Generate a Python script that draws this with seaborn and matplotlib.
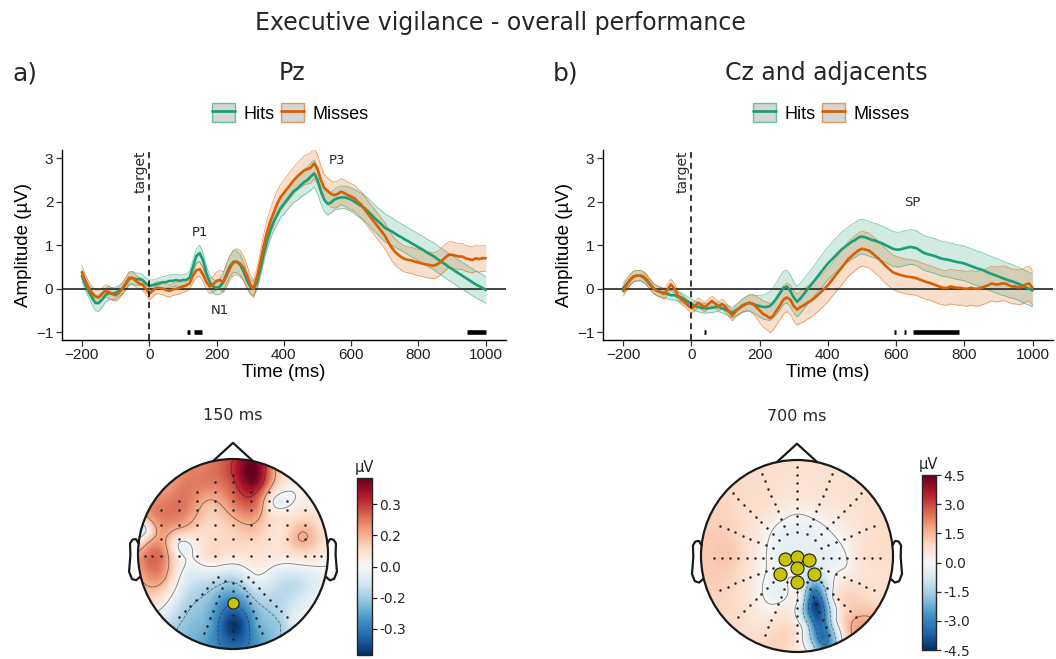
import numpy as np
import pandas as pd
import matplotlib
matplotlib.use("Agg")
import matplotlib.pyplot as plt
import seaborn as sns
from matplotlib.patches import Circle, Patch
from matplotlib.lines import Line2D
from matplotlib.legend_handler import HandlerTuple
from matplotlib.colors import to_rgb
from matplotlib.ticker import FuncFormatter

# ---------------------------------------------------------------- ERP data
times = np.arange(-200, 1001, 10)

pz_hits = [
    0.30, 0.10, -0.05, -0.20, -0.33, -0.33, -0.25, -0.15, -0.10, -0.12,
    -0.10, -0.05, 0.00, 0.10, 0.22, 0.25, 0.22, 0.22, 0.20, 0.12,
    0.07, 0.08, 0.10, 0.12, 0.15, 0.15, 0.18, 0.18, 0.20, 0.18,
    0.20, 0.20, 0.25, 0.50, 0.75, 0.82, 0.65, 0.35, 0.15, 0.05,
    0.02, 0.05, 0.15, 0.35, 0.52, 0.62, 0.62, 0.55, 0.40, 0.20,
    0.05, 0.00, 0.15, 0.45, 0.80, 1.10, 1.35, 1.55, 1.70, 1.85,
    1.95, 2.05, 2.15, 2.25, 2.30, 2.38, 2.45, 2.50, 2.58, 2.65,
    2.50, 2.25, 2.05, 1.95, 1.98, 2.05, 2.08, 2.10, 2.10, 2.08,
    2.05, 2.00, 1.95, 1.90, 1.85, 1.78, 1.70, 1.62, 1.55, 1.48,
    1.40, 1.36, 1.32, 1.27, 1.22, 1.18, 1.13, 1.09, 1.04, 1.00,
    0.95, 0.91, 0.86, 0.81, 0.77, 0.72, 0.66, 0.61, 0.56, 0.50,
    0.45, 0.40, 0.35, 0.30, 0.25, 0.20, 0.15, 0.10, 0.06, 0.02,
    -0.03]
pz_hits_ci = [
    0.14, 0.14, 0.15, 0.16, 0.18, 0.19, 0.18, 0.16, 0.15, 0.14,
    0.14, 0.13, 0.13, 0.14, 0.15, 0.15, 0.14, 0.14, 0.13, 0.13,
    0.13, 0.12, 0.12, 0.13, 0.13, 0.14, 0.14, 0.14, 0.13, 0.13,
    0.13, 0.14, 0.15, 0.16, 0.17, 0.18, 0.17, 0.16, 0.16, 0.16,
    0.16, 0.18, 0.20, 0.22, 0.24, 0.25, 0.25, 0.24, 0.22, 0.19,
    0.17, 0.16, 0.17, 0.18, 0.19, 0.20, 0.21, 0.22, 0.22, 0.22,
    0.23, 0.24, 0.25, 0.26, 0.27, 0.28, 0.29, 0.30, 0.31, 0.31,
    0.31, 0.30, 0.28, 0.26, 0.24, 0.24, 0.25, 0.26, 0.26, 0.27,
    0.27, 0.28, 0.29, 0.29, 0.30, 0.30, 0.31, 0.31, 0.31, 0.32,
    0.32, 0.32, 0.32, 0.31, 0.31, 0.31, 0.31, 0.31, 0.31, 0.31,
    0.31, 0.31, 0.31, 0.31, 0.31, 0.31, 0.31, 0.31, 0.31, 0.31,
    0.31, 0.31, 0.31, 0.31, 0.31, 0.31, 0.31, 0.31, 0.31, 0.31,
    0.31]
pz_misses = [
    0.38, 0.18, 0.02, -0.10, -0.18, -0.20, -0.12, -0.05, -0.08, -0.12,
    -0.15, -0.10, 0.00, 0.12, 0.25, 0.25, 0.18, 0.12, 0.10, 0.00,
    -0.12, -0.05, 0.02, 0.02, 0.00, -0.03, -0.05, -0.02, 0.00, 0.02,
    0.05, 0.08, 0.12, 0.30, 0.42, 0.45, 0.32, 0.15, 0.05, 0.10,
    0.18, 0.20, 0.15, 0.30, 0.48, 0.60, 0.62, 0.58, 0.48, 0.30,
    0.10, 0.00, 0.25, 0.60, 0.98, 1.30, 1.55, 1.75, 1.95, 2.10,
    2.20, 2.30, 2.40, 2.50, 2.58, 2.65, 2.72, 2.75, 2.78, 2.88,
    2.75, 2.50, 2.32, 2.25, 2.18, 2.15, 2.18, 2.23, 2.20, 2.15,
    2.12, 2.08, 2.00, 1.93, 1.82, 1.72, 1.62, 1.52, 1.42, 1.32,
    1.22, 1.08, 0.95, 0.85, 0.78, 0.72, 0.68, 0.66, 0.65, 0.62,
    0.60, 0.58, 0.56, 0.55, 0.53, 0.54, 0.58, 0.65, 0.72, 0.78,
    0.78, 0.76, 0.74, 0.74, 0.70, 0.68, 0.66, 0.70, 0.68, 0.70,
    0.70]
pz_misses_ci = [
    0.15, 0.15, 0.15, 0.15, 0.15, 0.15, 0.14, 0.14, 0.14, 0.14,
    0.14, 0.14, 0.13, 0.13, 0.14, 0.14, 0.14, 0.14, 0.13, 0.13,
    0.14, 0.14, 0.14, 0.14, 0.14, 0.14, 0.14, 0.14, 0.14, 0.14,
    0.14, 0.14, 0.14, 0.15, 0.16, 0.16, 0.16, 0.16, 0.17, 0.18,
    0.20, 0.22, 0.24, 0.26, 0.28, 0.29, 0.30, 0.30, 0.28, 0.25,
    0.22, 0.20, 0.22, 0.24, 0.26, 0.28, 0.29, 0.30, 0.30, 0.30,
    0.30, 0.30, 0.30, 0.30, 0.31, 0.32, 0.33, 0.34, 0.35, 0.35,
    0.34, 0.33, 0.31, 0.30, 0.30, 0.30, 0.30, 0.30, 0.30, 0.30,
    0.30, 0.30, 0.30, 0.30, 0.30, 0.30, 0.30, 0.30, 0.30, 0.30,
    0.30, 0.30, 0.30, 0.30, 0.30, 0.30, 0.30, 0.30, 0.30, 0.30,
    0.30, 0.30, 0.30, 0.30, 0.30, 0.30, 0.30, 0.30, 0.30, 0.30,
    0.30, 0.30, 0.30, 0.30, 0.30, 0.30, 0.30, 0.30, 0.30, 0.30,
    0.30]

cz_hits = [
    0.02, 0.10, 0.20, 0.28, 0.30, 0.30, 0.26, 0.18, 0.08, 0.00,
    -0.05, -0.08, -0.10, -0.12, -0.15, -0.15, -0.18, -0.20, -0.25, -0.30,
    -0.35, -0.40, -0.42, -0.44, -0.45, -0.45, -0.44, -0.42, -0.42, -0.45,
    -0.48, -0.52, -0.55, -0.50, -0.45, -0.38, -0.35, -0.33, -0.35, -0.38,
    -0.40, -0.42, -0.42, -0.40, -0.32, -0.22, -0.10, 0.02, 0.05, -0.05,
    -0.20, -0.30, -0.22, -0.12, -0.02, 0.08, 0.18, 0.28, 0.38, 0.48,
    0.58, 0.66, 0.74, 0.82, 0.90, 0.96, 1.02, 1.08, 1.12, 1.18,
    1.20, 1.18, 1.15, 1.12, 1.10, 1.07, 1.04, 1.00, 0.96, 0.92,
    0.90, 0.90, 0.92, 0.94, 0.96, 0.95, 0.93, 0.88, 0.83, 0.80,
    0.78, 0.76, 0.73, 0.70, 0.68, 0.67, 0.65, 0.63, 0.61, 0.60,
    0.58, 0.55, 0.52, 0.49, 0.46, 0.44, 0.41, 0.37, 0.34, 0.31,
    0.28, 0.25, 0.22, 0.19, 0.17, 0.14, 0.11, 0.07, 0.03, 0.00,
    -0.04]
cz_hits_ci = [
    0.12, 0.12, 0.12, 0.12, 0.12, 0.12, 0.12, 0.11, 0.11, 0.11,
    0.11, 0.11, 0.11, 0.11, 0.11, 0.11, 0.11, 0.11, 0.11, 0.11,
    0.11, 0.11, 0.11, 0.11, 0.11, 0.11, 0.11, 0.11, 0.11, 0.11,
    0.11, 0.12, 0.12, 0.13, 0.14, 0.15, 0.16, 0.18, 0.20, 0.22,
    0.25, 0.28, 0.30, 0.33, 0.35, 0.37, 0.38, 0.38, 0.38, 0.37,
    0.36, 0.35, 0.35, 0.35, 0.35, 0.35, 0.35, 0.36, 0.37, 0.38,
    0.38, 0.38, 0.39, 0.39, 0.40, 0.40, 0.40, 0.40, 0.40, 0.40,
    0.40, 0.40, 0.40, 0.40, 0.40, 0.40, 0.40, 0.40, 0.40, 0.40,
    0.40, 0.40, 0.40, 0.40, 0.40, 0.40, 0.40, 0.40, 0.40, 0.40,
    0.40, 0.40, 0.40, 0.40, 0.40, 0.40, 0.40, 0.40, 0.40, 0.40,
    0.40, 0.40, 0.40, 0.40, 0.40, 0.40, 0.40, 0.40, 0.40, 0.40,
    0.40, 0.40, 0.39, 0.39, 0.39, 0.38, 0.38, 0.38, 0.38, 0.38,
    0.38]
cz_misses = [
    -0.05, 0.08, 0.20, 0.28, 0.30, 0.30, 0.28, 0.20, 0.10, 0.00,
    -0.05, -0.08, -0.12, -0.02, 0.10, 0.00, -0.15, -0.25, -0.30, -0.38,
    -0.45, -0.40, -0.32, -0.38, -0.42, -0.35, -0.28, -0.35, -0.40, -0.35,
    -0.42, -0.52, -0.62, -0.52, -0.45, -0.40, -0.35, -0.32, -0.35, -0.42,
    -0.50, -0.58, -0.62, -0.68, -0.62, -0.50, -0.38, -0.25, -0.20, -0.25,
    -0.40, -0.48, -0.42, -0.38, -0.32, -0.28, -0.22, -0.15, -0.08, 0.00,
    0.08, 0.18, 0.28, 0.38, 0.48, 0.58, 0.68, 0.75, 0.82, 0.88,
    0.92, 0.90, 0.88, 0.82, 0.75, 0.68, 0.60, 0.52, 0.45, 0.38,
    0.35, 0.32, 0.30, 0.28, 0.27, 0.26, 0.24, 0.21, 0.18, 0.15,
    0.13, 0.10, 0.07, 0.04, 0.02, 0.02, 0.05, 0.03, 0.02, 0.02,
    0.00, 0.00, 0.02, 0.00, 0.00, 0.02, 0.05, 0.08, 0.12, 0.10,
    0.10, 0.12, 0.12, 0.08, 0.05, 0.05, 0.03, 0.05, 0.10, 0.12,
    0.02]
cz_misses_ci = [
    0.12, 0.12, 0.12, 0.12, 0.12, 0.12, 0.12, 0.12, 0.12, 0.12,
    0.12, 0.12, 0.12, 0.12, 0.12, 0.12, 0.11, 0.11, 0.11, 0.11,
    0.11, 0.11, 0.11, 0.11, 0.11, 0.11, 0.11, 0.11, 0.11, 0.11,
    0.11, 0.11, 0.12, 0.13, 0.14, 0.15, 0.17, 0.19, 0.22, 0.25,
    0.28, 0.30, 0.32, 0.33, 0.33, 0.33, 0.33, 0.33, 0.33, 0.34,
    0.35, 0.36, 0.37, 0.38, 0.38, 0.38, 0.38, 0.38, 0.38, 0.38,
    0.38, 0.38, 0.39, 0.39, 0.40, 0.40, 0.40, 0.40, 0.40, 0.40,
    0.40, 0.40, 0.40, 0.40, 0.40, 0.40, 0.40, 0.40, 0.40, 0.40,
    0.40, 0.40, 0.40, 0.40, 0.40, 0.40, 0.40, 0.40, 0.40, 0.40,
    0.40, 0.40, 0.40, 0.40, 0.40, 0.40, 0.40, 0.40, 0.40, 0.40,
    0.40, 0.40, 0.40, 0.40, 0.40, 0.40, 0.40, 0.40, 0.40, 0.40,
    0.40, 0.40, 0.40, 0.40, 0.40, 0.40, 0.40, 0.40, 0.40, 0.40,
    0.40]

# significant clusters (ms)
pz_sig_start = [112, 134, 944]
pz_sig_end = [122, 158, 1000]
cz_sig_start = [36, 595, 622, 651]
cz_sig_end = [43, 600, 628, 783]

# component labels
pz_comp = ["P1", "N1", "P3"]
pz_comp_t = [150, 210, 557]
pz_comp_y = [1.30, -0.50, 2.96]
cz_comp = ["SP"]
cz_comp_t = [647]
cz_comp_y = [1.99]

# ------------------------------------------------------ topography data
# scalp potential samples (head units, nose up) and values in µV
topo150_x = [0.00, 0.22, -0.25, 0.45, -0.75, -0.50, -0.25, 0.00, 0.25, 0.50, 0.75,
             -1.00, -0.75, -0.50, -0.25, 0.00, 0.25, 0.45, 0.50, 0.75, 1.00,
             -0.95, -0.75, -0.50, -0.25, 0.00, 0.25, 0.50, 0.72, 1.00,
             -1.00, -0.75, -0.55, -0.50, -0.25, 0.00, 0.25, 0.50, 0.75, 1.00,
             -1.00, -0.75, -0.50, -0.25, 0.00, 0.25, 0.50, 0.70, 1.00,
             -0.80, -0.50, -0.25, 0.00, 0.25, 0.50, 0.75, 0.95,
             -0.65, -0.45, -0.25, 0.03, 0.25, 0.50, 0.65,
             -0.25, 0.00, 0.25, -0.88, -0.88]
topo150_y = [1.00, 0.92, 0.98, 0.90, 0.75, 0.75, 0.75, 0.75, 0.75, 0.75, 0.72,
             0.50, 0.50, 0.50, 0.50, 0.50, 0.50, 0.55, 0.40, 0.50, 0.50,
             0.26, 0.25, 0.25, 0.25, 0.25, 0.25, 0.25, 0.18, 0.25,
             0.00, 0.00, 0.10, -0.05, 0.00, 0.00, 0.00, 0.00, 0.00, 0.00,
             -0.25, -0.25, -0.25, -0.25, -0.25, -0.22, -0.25, -0.30, -0.25,
             -0.50, -0.50, -0.50, -0.50, -0.50, -0.50, -0.50, -0.50,
             -0.75, -0.75, -0.75, -0.75, -0.75, -0.75, -0.70,
             -1.00, -1.00, -1.00, 0.38, 0.12]
topo150_uv = [0.30, 0.43, 0.22, 0.15, 0.15, 0.22, 0.22, 0.28, 0.38, 0.08, 0.02,
              0.14, 0.22, 0.22, 0.12, 0.20, 0.22, -0.03, 0.06, 0.04, 0.02,
              -0.05, 0.18, 0.12, 0.08, 0.10, 0.12, 0.05, 0.16, 0.05,
              0.16, 0.22, -0.02, 0.00, 0.08, 0.06, 0.06, 0.05, 0.08, 0.03,
              0.14, 0.18, -0.05, -0.08, -0.12, 0.00, -0.08, -0.10, -0.02,
              0.06, -0.12, -0.18, -0.28, -0.15, -0.12, -0.05, 0.00,
              -0.12, -0.18, -0.22, -0.42, -0.22, -0.15, -0.04,
              -0.25, -0.32, -0.25, 0.16, 0.16]

topo700_x = [0.00, 0.50, -0.50, 0.87, -0.87, 1.00, -1.00, 0.87, -0.87, 0.50, -0.50, 0.00,
             0.00, 0.50, -0.50, 0.70, -0.70, 0.55, -0.50, -0.25, 0.65,
             0.00, 0.25, -0.25, -0.45, 0.65,
             0.00, 0.22, -0.20, 0.00, -0.15, -0.25, 0.27, 0.45, 0.50,
             0.20, -0.22, -0.15, -0.29, -0.35, 0.30, 0.05,
             0.13, 0.17, 0.19, 0.22, 0.27, 0.33,
             0.03, 0.08, 0.13, 0.36, 0.41, 0.50]
topo700_y = [1.00, 0.87, 0.87, 0.50, 0.50, 0.00, 0.00, -0.50, -0.50, -0.87, -0.87, -1.00,
             0.70, 0.50, 0.50, 0.00, 0.00, -0.57, -0.50, -0.75, -0.30,
             0.55, 0.48, 0.45, 0.00, 0.00,
             0.38, 0.30, 0.30, 0.00, 0.00, 0.00, 0.00, 0.00, -0.10,
             0.15, -0.25, -0.39, -0.46, -0.60, -0.20, -0.30,
             -0.25, -0.36, -0.50, -0.67, -0.85, -0.99,
             -0.46, -0.74, -0.99, -0.43, -0.67, -0.95]
topo700_uv = [0.7, 0.7, 0.8, 0.8, 1.0, 0.8, 1.1, 0.9, 1.0, 0.6, 0.8, 0.5,
              0.6, 0.6, 0.8, 0.7, 1.2, 1.1, 0.6, 0.8, 0.7,
              0.4, 0.4, 0.5, 0.5, 0.6,
              -0.2, -0.15, -0.1, -0.4, -0.3, -0.2, -0.4, -0.2, -0.05,
              -0.3, -0.2, -0.3, -0.1, 0.3, -0.5, -0.3,
              -1.5, -3.0, -4.3, -3.8, -3.5, -2.5,
              -0.3, -0.5, -0.3, -0.2, 0.0, 0.3]

# highlighted channels (head units)
pz_chan_x = [0.00]
pz_chan_y = [-0.52]
cz_chan_x = [-0.12, 0.00, 0.12, -0.18, 0.00, 0.18, 0.00]
cz_chan_y = [-0.03, -0.01, -0.04, -0.19, -0.12, -0.19, -0.27]

# ---------------------------------------------------------------- styling
W, H = 1056, 659
GREEN = "#1b9e77"
ORANGE = "#d95f02"
MARK = "#c9c400"
DV = ["DejaVu Sans"]

sns.set_theme(style="ticks")
plt.rcParams["font.family"] = ["Liberation Sans", "DejaVu Sans"]

fig = plt.figure(figsize=(W / 100, H / 100), dpi=100)


def px_box(x0, y0, x1, y1):
    return [x0 / W, 1 - y1 / H, (x1 - x0) / W, (y1 - y0) / H]


def draw_erp(ax, hits, hits_ci, misses, misses_ci, s0, s1, comp, comp_t, comp_y):
    hits, hits_ci = np.asarray(hits), np.asarray(hits_ci)
    misses, misses_ci = np.asarray(misses), np.asarray(misses_ci)
    for m, ci, col in ((hits, hits_ci, GREEN), (misses, misses_ci, ORANGE)):
        ax.fill_between(times, m - ci, m + ci, facecolor=col, alpha=0.2, lw=0, zorder=1)
        ax.plot(times, m - ci, color=col, lw=0.6, alpha=0.55, zorder=1.5)
        ax.plot(times, m + ci, color=col, lw=0.6, alpha=0.55, zorder=1.5)
    ax.axhline(0, color="#333333", lw=1.3, zorder=2)
    long = pd.DataFrame({
        "time": np.r_[times, times],
        "amp": np.r_[hits, misses],
        "cond": ["Hits"] * len(times) + ["Misses"] * len(times),
    })
    sns.lineplot(data=long, x="time", y="amp", hue="cond",
                 palette={"Hits": GREEN, "Misses": ORANGE}, linewidth=1.9,
                 errorbar=None, legend=False, ax=ax, zorder=3)
    ax.axvline(0, color="black", lw=1.1, ls=(0, (4, 3)), zorder=4)
    for a, b in zip(s0, s1):
        ax.plot([a, b], [-1, -1], color="black", lw=3.3, solid_capstyle="butt", zorder=4)
    ax.text(-6, 3.17, "target", rotation=90, ha="right", va="top",
            fontsize=10, family=DV)
    for n, t, y in zip(comp, comp_t, comp_y):
        ax.text(t, y, n, ha="center", va="center", fontsize=9.5, family=DV)
    ax.set_xlim(-260, 1060)
    ax.set_ylim(-1.18, 3.19)
    ax.set_xticks([-200, 0, 200, 400, 600, 800, 1000])
    ax.set_yticks([-1, 0, 1, 2, 3])
    sns.despine(ax=ax)
    for sp in ("left", "bottom"):
        ax.spines[sp].set_linewidth(1.0)
        ax.spines[sp].set_color("black")
    ax.tick_params(labelsize=11, length=4, width=0.9, color="#333333",
                   labelcolor="#222222", pad=2)
    ax.set_xlabel("Time (ms)", fontsize=13.5, labelpad=1, color="black")
    ax.set_ylabel("Amplitude (µV)", fontsize=13.5, labelpad=3, color="black")
    ax.set_facecolor("white")


def add_legend(cx):
    handles = []
    for col in (GREEN, ORANGE):
        box = Patch(facecolor="#d6d6d6", edgecolor=(*to_rgb(col), 0.6), lw=1.0)
        line = Line2D([], [], color=col, lw=2)
        handles.append((box, line))
    leg = fig.legend(handles, ["Hits", "Misses"],
                     handler_map={tuple: HandlerTuple(ndivide=1, pad=0)},
                     loc="center", bbox_to_anchor=(cx / W, 1 - 113 / H), ncol=2,
                     frameon=False, fontsize=13, handlelength=1.3, handleheight=1.2,
                     handletextpad=0.45, columnspacing=0.35)
    for t in leg.get_texts():
        t.set_color("black")


def tps_surface(px, py, pv, gx, gy, smooth=2e-4):
    px, py, pv = map(np.asarray, (px, py, pv))
    pts = np.column_stack([px, py])
    n = len(pts)

    def kern(d):
        with np.errstate(divide="ignore", invalid="ignore"):
            k = d ** 2 * np.log(d)
        return np.nan_to_num(k)

    d = np.linalg.norm(pts[:, None, :] - pts[None, :, :], axis=-1)
    mat = np.zeros((n + 3, n + 3))
    mat[:n, :n] = kern(d) + smooth * np.eye(n)
    poly = np.column_stack([np.ones(n), px, py])
    mat[:n, n:] = poly
    mat[n:, :n] = poly.T
    sol = np.linalg.solve(mat, np.r_[pv, np.zeros(3)])
    g = np.column_stack([gx.ravel(), gy.ravel()])
    dg = np.linalg.norm(g[:, None, :] - pts[None, :, :], axis=-1)
    z = kern(dg) @ sol[:n] + sol[n] + sol[n + 1] * gx.ravel() + sol[n + 2] * gy.ravel()
    return z.reshape(gx.shape)


def grid_montage():
    pts = []
    rows = [(0.835, 0), (0.754, 1), (0.65, 2), (0.56, 3), (0.46, 4),
            (0.31, 4), (0.16, 4), (-0.02, 4)]
    for yrow, k in rows:
        for i in range(-k, k + 1):
            pts.append((i * 0.19, yrow))
    for xr in (-0.85, -0.93, 0.85, 0.93):
        pts.append((xr, -0.02))
    for deg in (-90, -68, -112, -46, -134):
        a = np.deg2rad(deg)
        for r in np.arange(0.22, 0.98, 0.085):
            x, y = r * np.cos(a), -0.08 + r * np.sin(a)
            if x * x + y * y < 0.93 ** 2:
                pts.append((x, y))
    return np.array(pts)


def spoke_montage():
    pts = []
    for k in range(16):
        a = np.pi / 2 + k * np.pi / 8
        for r in np.arange(0.27, 0.97, 0.085):
            x, y = r * np.cos(a), -0.02 + r * np.sin(a)
            if x * x + y * y < 0.94 ** 2:
                pts.append((x, y))
    return np.array(pts)


def draw_topo(ax, cax, px, py, pv, vmax, levels, cticks, elec, hx, hy, msize, title, fmt):
    gx, gy = np.meshgrid(np.linspace(-1, 1, 241), np.linspace(-1, 1, 241))
    z = tps_surface(px, py, pv, gx, gy)
    clip = Circle((0, 0), 1.0, transform=ax.transData)
    im = ax.imshow(z, extent=(-1, 1, -1, 1), origin="lower", cmap="RdBu_r",
                   vmin=-vmax, vmax=vmax, interpolation="bilinear", zorder=1)
    im.set_clip_path(clip)
    cs = ax.contour(gx, gy, z, levels=levels, colors="k", linewidths=0.6,
                    alpha=0.55, zorder=2)
    cs.set_clip_path(clip)
    ax.scatter(elec[:, 0], elec[:, 1], s=3.2, c="#222222", lw=0, zorder=3)
    ax.scatter(hx, hy, s=msize, c=MARK, edgecolors="k", linewidths=0.8, zorder=4)
    ax.add_patch(Circle((0, 0), 1.0, fill=False, ec="k", lw=1.6, zorder=5))
    ax.plot([-0.21, 0.0, 0.21], [0.978, 1.17, 0.978], color="k", lw=1.6, zorder=5)
    ear_x = np.array([.497, .510, .518, .5299, .5419, .54, .547, .532, .510, .489]) * 2
    ear_y = np.array([.0555, .0775, .0783, .0746, .0555, -.0055, -.0932, -.1313, -.1384, -.1199]) * 2
    ax.plot(ear_x, ear_y, color="k", lw=1.6, zorder=5)
    ax.plot(-ear_x, ear_y, color="k", lw=1.6, zorder=5)
    ax.set_xlim(-1.3, 1.3)
    ax.set_ylim(-1.05, 1.25)
    ax.set_aspect("equal")
    ax.axis("off")
    ax.set_title(title, fontsize=11.5, family=DV, pad=6, y=1.03)
    cb = fig.colorbar(im, cax=cax, ticks=cticks, format=FuncFormatter(fmt))
    cb.outline.set_linewidth(1.0)
    cb.ax.tick_params(labelsize=10, length=3.5, width=0.9, pad=2)
    for lab in cb.ax.get_yticklabels():
        lab.set_family(DV)
    cax.set_title("µV", fontsize=10.5, family=DV, pad=4)


def one_decimal(v, _):
    r = np.sign(v) * np.floor(abs(v) * 10 + 0.5 + 1e-9) / 10
    return f"{r + 0.0:.1f}"


# ---------------------------------------------------------------- figure
ax_a = fig.add_axes(px_box(61.7, 150, 506, 340))
ax_b = fig.add_axes(px_box(602.7, 150, 1053, 340))
draw_erp(ax_a, pz_hits, pz_hits_ci, pz_misses, pz_misses_ci,
         pz_sig_start, pz_sig_end, pz_comp, pz_comp_t, pz_comp_y)
draw_erp(ax_b, cz_hits, cz_hits_ci, cz_misses, cz_misses_ci,
         cz_sig_start, cz_sig_end, cz_comp, cz_comp_t, cz_comp_y)
add_legend(290)
add_legend(831)

fig.text(500 / W, 1 - 23 / H, "Executive vigilance - overall performance",
         ha="center", va="center", fontsize=17, family=DV)
fig.text(12 / W, 1 - 73 / H, "a)", ha="left", va="center", fontsize=18, family=DV)
fig.text(553 / W, 1 - 73 / H, "b)", ha="left", va="center", fontsize=18, family=DV)
fig.text(292 / W, 1 - 73 / H, "Pz", ha="center", va="center", fontsize=17, family=DV)
fig.text(826 / W, 1 - 73 / H, "Cz and adjacents", ha="center", va="center",
         fontsize=17, family=DV)

topo_a = fig.add_axes(px_box(109.5, 435.25, 356.5, 653.75))
cbar_a = fig.add_axes(px_box(356.7, 478, 371.7, 655))
draw_topo(topo_a, cbar_a, topo150_x, topo150_y, topo150_uv, 0.425,
          [-0.3, -0.15, 0.0, 0.15, 0.3], [-0.3, -0.15, 0.0, 0.15, 0.3],
          grid_montage(), pz_chan_x, pz_chan_y, 64, "150 ms", one_decimal)

topo_b = fig.add_axes(px_box(672.2, 436, 921.8, 656.8))
cbar_b = fig.add_axes(px_box(921.7, 475, 936, 650))
draw_topo(topo_b, cbar_b, topo700_x, topo700_y, topo700_uv, 4.5,
          [-3.0, -1.5, 0.0, 1.5, 3.0], [-4.5, -3.0, -1.5, 0.0, 1.5, 3.0, 4.5],
          spoke_montage(), cz_chan_x, cz_chan_y, 88, "700 ms", one_decimal)

fig.savefig("out.png", dpi=100, facecolor="white")
